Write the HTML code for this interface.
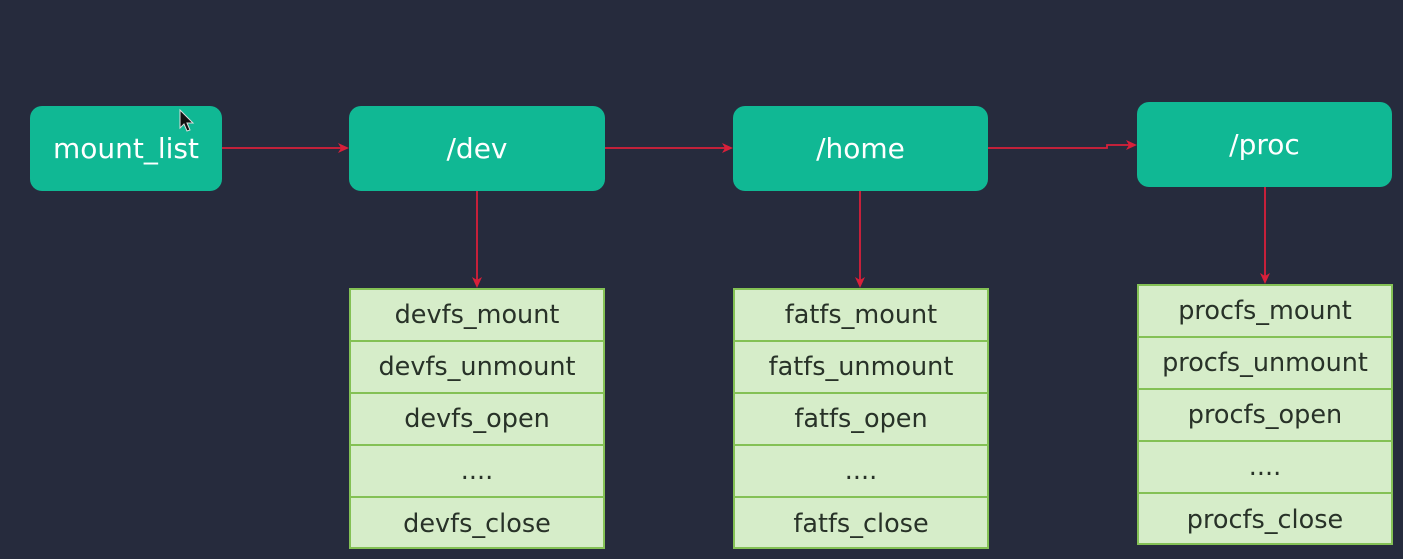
<!DOCTYPE html>
<html><head><style>
body{margin:0;width:1403px;height:559px;background:#262b3d;position:relative;overflow:hidden;font-family:"DejaVu Sans","Liberation Sans",sans-serif}
.n{position:absolute;background:#10b894;border-radius:12px;color:#fff;font-size:28px;display:flex;align-items:center;justify-content:center}
.l{position:absolute;width:256px;background:#d6edc9;border:2px solid #84c155;box-sizing:border-box}
.l div{height:52px;border-bottom:2px solid #84c155;box-sizing:border-box;display:flex;align-items:center;justify-content:center;font-size:25.5px;color:#283228}
.l div:last-child{border-bottom:none}
svg{position:absolute;left:0;top:0}
</style></head><body>
<div class="n" style="left:30px;top:106px;width:192px;height:85px">mount_list</div>
<div class="n" style="left:349px;top:106px;width:256px;height:85px">/dev</div>
<div class="n" style="left:733px;top:106px;width:255px;height:85px">/home</div>
<div class="n" style="left:1137px;top:102px;width:255px;height:85px">/proc</div>
<div class="l" style="left:349px;top:288px;height:261px"><div>devfs_mount</div><div>devfs_unmount</div><div>devfs_open</div><div>....</div><div>devfs_close</div></div>
<div class="l" style="left:733px;top:288px;height:261px"><div>fatfs_mount</div><div>fatfs_unmount</div><div>fatfs_open</div><div>....</div><div>fatfs_close</div></div>
<div class="l" style="left:1137px;top:284px;height:261px"><div>procfs_mount</div><div>procfs_unmount</div><div>procfs_open</div><div>....</div><div>procfs_close</div></div>
<svg width="1403" height="559">
<g stroke="#d8203a" stroke-width="1.8" fill="none">
<path d="M222 148H342"/><path d="M605 148H726"/><path d="M988 148H1107V145H1130"/>
<path d="M477 191V281"/><path d="M860 191V281"/><path d="M1265 187V277"/>
</g>
<g fill="#d8203a">
<path d="M349 148l-11-5 3 5-3 5z"/><path d="M733 148l-11-5 3 5-3 5z"/><path d="M1137 145l-11-5 3 5-3 5z"/>
<path d="M477 288l-5-11 5 3 5-3z"/><path d="M860 288l-5-11 5 3 5-3z"/><path d="M1265 284l-5-11 5 3 5-3z"/>
</g>
<path d="M180 110v18l4-4 3 7 3-1-3-7h6z" fill="#111" stroke="#ddd" stroke-width="1"/>
</svg>
</body></html>
